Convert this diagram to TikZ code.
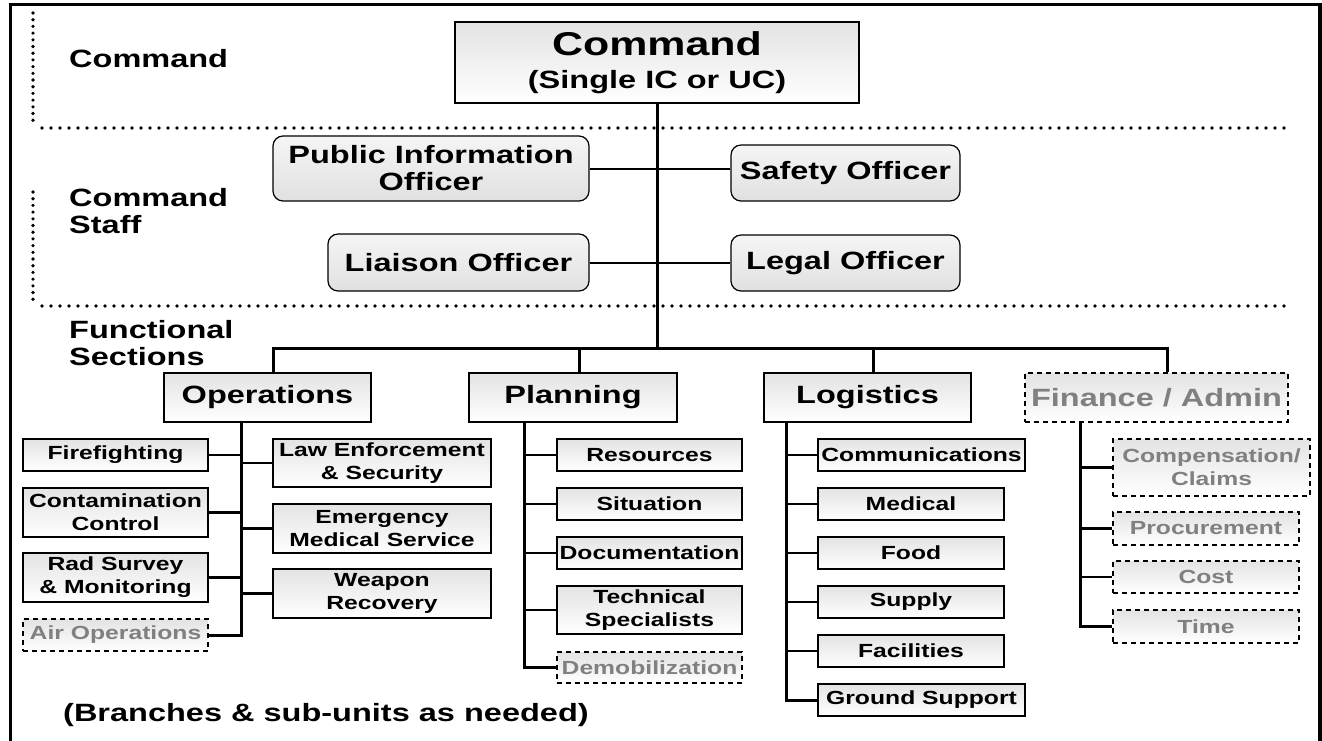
\documentclass[tikz,border=0pt]{standalone}
\usepackage{fontspec}
\setmainfont{Liberation Sans}[FakeStretch=1.3]
\definecolor{optgray}{RGB}{128,128,128}
\begin{document}
\begin{tikzpicture}[x=1pt,y=-1pt,
  f19/.style={font=\bfseries\fontsize{19}{23}\selectfont},
  f25/.style={font=\bfseries\fontsize{25}{27}\selectfont},
  box/.style={draw=black, line width=1.2pt, top color=gray!22, bottom color=white, inner sep=0pt, align=center, f19},
  sect/.style={box, f25},
  opt/.style={dash pattern=on 5pt off 4pt, text=optgray},
  staff/.style={draw=black, line width=1.2pt, rounded corners=10pt, top color=gray!8, bottom color=gray!24, inner sep=0pt, align=center, f25},
  lbl/.style={inner sep=0pt, anchor=west, align=left, f25},
  trunk/.style={line width=3pt},
  conn/.style={line width=2.6pt},
  sconn/.style={line width=2pt},
  dotv/.style={line width=3.6pt, line cap=round, dash pattern=on 0pt off 6.7pt},
  doth/.style={line width=3.6pt, line cap=round, dash pattern=on 0pt off 9pt}
]
\clip (0,0) rectangle (1322,740);
\fill[white] (0,0) rectangle (1322,740);
% frame
\draw[line width=3.5pt] (10.5,750) -- (10.5,4.5) -- (1320,4.5) -- (1320,750);
% dotted separators
\draw[dotv] (33,13) -- (33,124);
\draw[doth] (42,128) -- (1290,128);
\draw[dotv] (33,192) -- (33,302);
\draw[doth] (42,306) -- (1290,306);
% row labels
\node[lbl] (lcmd) at (69,58.5) {Command};
\node[lbl] (lstaff) at (69,211) {Command\\Staff};
\node[lbl] (lfunc) at (69,343) {Functional\\Sections};
\node[lbl] (lnote) at (63,715) {(Branches \& sub-units as needed)};
% command
\node[box, font=\bfseries\fontsize{25}{33}\selectfont, minimum width=404pt, minimum height=81pt] (cmd) at (657,62.5)
  {{\fontsize{33}{33}\selectfont Command}\\(Single IC or UC)};
% command staff
\node[staff, minimum width=316pt, minimum height=65pt] (pio) at (431,168.5) {Public Information\\Officer};
\node[staff, minimum width=229pt, minimum height=56pt] (saf) at (845.5,173) {Safety Officer};
\node[staff, minimum width=261pt, minimum height=57pt] (lia) at (458.5,262.5) {Liaison Officer};
\node[staff, minimum width=229pt, minimum height=56pt] (leg) at (845.5,263) {Legal Officer};
% sections
\node[sect, minimum width=207pt, minimum height=49pt] (ops) at (267.5,397.5) {Operations};
\node[sect, minimum width=208pt, minimum height=49pt] (plan) at (573,397.5) {Planning};
\node[sect, minimum width=207pt, minimum height=49pt] (log) at (867.5,397.5) {Logistics};
\node[sect, opt, minimum width=263pt, minimum height=49pt] (fin) at (1156.5,397.5) {Finance / Admin};
% operations units
\node[box, minimum width=185pt, minimum height=32pt] (ff) at (115.5,455) {Firefighting};
\node[box, minimum width=185pt, minimum height=49pt] (cc) at (115.5,512.5) {Contamination\\Control};
\node[box, minimum width=185pt, minimum height=49pt] (rad) at (115.5,577.5) {Rad Survey\\\& Monitoring};
\node[box, opt, minimum width=185pt, minimum height=32pt] (air) at (115.5,635) {Air Operations};
\node[box, minimum width=218pt, minimum height=48pt] (law) at (382,463) {Law Enforcement\\\& Security};
\node[box, minimum width=218pt, minimum height=49pt] (ems) at (382,528.5) {Emergency\\Medical Service};
\node[box, minimum width=218pt, minimum height=49pt] (wr) at (382,593.5) {Weapon\\Recovery};
% planning units
\node[box, minimum width=185pt, minimum height=32pt] (res) at (649.5,455) {Resources};
\node[box, minimum width=185pt, minimum height=32pt] (sit) at (649.5,504) {Situation};
\node[box, minimum width=185pt, minimum height=32pt] (doc) at (649.5,553) {Documentation};
\node[box, minimum width=185pt, minimum height=48pt] (tech) at (649.5,610) {Technical\\Specialists};
\node[box, opt, minimum width=185pt, minimum height=31pt] (demob) at (649.5,667.5) {Demobilization};
% logistics units
\node[box, minimum width=207pt, minimum height=32pt] (comm) at (921.5,455) {Communications};
\node[box, minimum width=186pt, minimum height=32pt] (med) at (911,504) {Medical};
\node[box, minimum width=186pt, minimum height=32pt] (food) at (911,553) {Food};
\node[box, minimum width=186pt, minimum height=32pt] (sup) at (911,602) {Supply};
\node[box, minimum width=186pt, minimum height=32pt] (fac) at (911,651) {Facilities};
\node[box, minimum width=207pt, minimum height=32pt] (gnd) at (921.5,700) {Ground Support};
% finance units
\node[box, opt, minimum width=197pt, minimum height=57pt] (comp) at (1211.5,467.5) {Compensation/\\Claims};
\node[box, opt, minimum width=186pt, minimum height=33pt] (proc) at (1206,528.5) {Procurement};
\node[box, opt, minimum width=186pt, minimum height=32pt] (cost) at (1206,577) {Cost};
\node[box, opt, minimum width=186pt, minimum height=33pt] (time) at (1206,626.5) {Time};
% trunk coordinates
\coordinate (bar) at (655,348);
\coordinate (ot) at (241,0);
\coordinate (pt) at (524,0);
\coordinate (lt) at (786,0);
\coordinate (ft) at (1080,0);
% main trunk
\draw[trunk] (cmd.south) -- (cmd.south |- bar);
\draw[sconn] (pio.east) -- (pio.east -| saf.west);
\draw[sconn] (lia.east) -- (lia.east -| leg.west);
\draw[trunk] ([xshift=5.5pt]ops.north) -- ([xshift=5.5pt]ops.north |- bar) -- ([xshift=10.5pt]fin.north |- bar) -- ([xshift=10.5pt]fin.north);
\draw[trunk] ([xshift=6pt]plan.north) -- ([xshift=6pt]plan.north |- bar);
\draw[trunk] ([xshift=5.5pt]log.north) -- ([xshift=5.5pt]log.north |- bar);
% operations
\draw[trunk] (ot |- ops.south) |- (air.east);
\foreach \n in {ff,cc,rad} \draw[conn] (\n.east) -- (\n.east -| ot);
\foreach \n in {law,ems,wr} \draw[conn] (\n.west) -- (\n.west -| ot);
% planning
\draw[trunk] (pt |- plan.south) |- (demob.west);
\foreach \n in {res,sit,doc,tech} \draw[conn] (\n.west) -- (\n.west -| pt);
% logistics
\draw[trunk] (lt |- log.south) |- (gnd.west);
\foreach \n in {comm,med,food,sup,fac} \draw[conn] (\n.west) -- (\n.west -| lt);
% finance
\draw[trunk] (ft |- fin.south) |- (time.west);
\foreach \n in {comp,proc,cost} \draw[conn] (\n.west) -- (\n.west -| ft);
\end{tikzpicture}
\end{document}
